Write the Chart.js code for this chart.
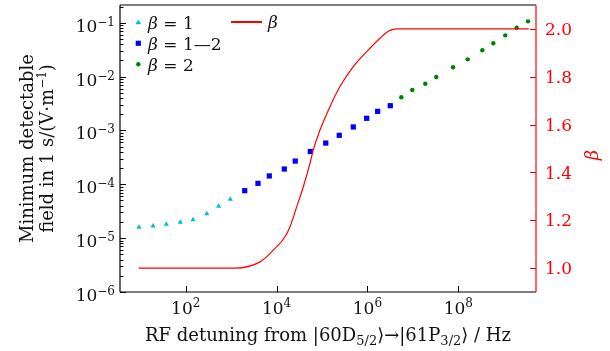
<!DOCTYPE html>
<html>
<head>
<meta charset="utf-8">
<script src="https://cdn.jsdelivr.net/npm/chart.js@4.4.0/dist/chart.umd.min.js"></script>
<style>
  html, body { margin: 0; padding: 0; background: #fff; }
</style>
</head>
<body>
<canvas id="c" width="610" height="351"></canvas>
<script>
// beta = 1 (cyan triangles)
const beta1X = [9.4, 19.1, 37.4, 76, 145, 290, 532, 960];
const beta1Y = [1.59e-5, 1.68e-5, 1.81e-5, 1.97e-5, 2.20e-5, 2.84e-5, 3.90e-5, 5.26e-5];
// beta = 1-2 (blue squares)
const beta12X = [1990, 3900, 6920, 14800, 25800, 55300, 1.21e5, 2.40e5, 4.89e5, 9.64e5, 1.68e6, 3.19e6];
const beta12Y = [7.6e-5, 1.04e-4, 1.43e-4, 1.92e-4, 2.70e-4, 4.06e-4, 5.83e-4, 8.11e-4, 1.16e-3, 1.68e-3, 2.26e-3, 2.88e-3];
// beta = 2 (green dots)
const beta2X = [5.57e6, 9.72e6, 1.88e7, 3.28e7, 7.66e7, 1.61e8, 3.38e8, 5.90e8, 1.08e9, 1.93e9, 3.43e9];
const beta2Y = [4.12e-3, 5.62e-3, 7.36e-3, 9.82e-3, 1.49e-2, 2.09e-2, 3.08e-2, 4.15e-2, 5.83e-2, 8.07e-2, 1.06e-1];
// beta curve (right axis)
const betaX = [9.2, 1216, 4325, 8470, 15350, 19770, 27730, 38820, 54450, 64420, 90360, 1.50e5, 2.49e5, 4.89e5, 9.64e5, 1.89e6, 2.88e6, 3.56e6, 4.42e6, 3.55e9];
const betaY = [1.0, 1.0, 1.026, 1.075, 1.131, 1.173, 1.256, 1.340, 1.438, 1.494, 1.577, 1.675, 1.759, 1.842, 1.905, 1.961, 1.990, 1.997, 2.0, 2.0];

// ticks
const leftDecades = [-6, -5, -4, -3, -2, -1];
const bottomDecades = [2, 4, 6, 8];
const rightTicks = [1.0, 1.2, 1.4, 1.6, 1.8, 2.0];

const SERIF = '"DejaVu Serif", "Liberation Serif", serif';
const INK = '#111';

function pts(xs, ys) {
  return xs.map((x, i) => ({x: x, y: ys[i]}));
}

function font(size, italic) {
  return (italic ? 'italic ' : '') + size + 'px ' + SERIF;
}

// parts: [text, size, dy, italic]
function rich(ctx, parts, x, y, align) {
  let w = 0;
  parts.forEach(p => { ctx.font = font(p[1], p[3]); w += ctx.measureText(p[0]).width; });
  let cx = align === 'center' ? x - w / 2 : (align === 'right' ? x - w : x);
  ctx.textAlign = 'left';
  ctx.textBaseline = 'alphabetic';
  parts.forEach(p => {
    ctx.font = font(p[1], p[3]);
    ctx.fillText(p[0], cx, y + (p[2] || 0));
    cx += ctx.measureText(p[0]).width;
  });
}

function expStr(n) {
  return n < 0 ? '\u2212' + Math.abs(n) : String(n);
}

const decor = {
  id: 'decor',
  afterDraw(chart) {
    const ctx = chart.ctx;
    const a = chart.chartArea;
    const sx = chart.scales.x, sy = chart.scales.y, sr = chart.scales.y2;
    ctx.save();

    // frame
    ctx.lineWidth = 1.2;
    ctx.strokeStyle = '#000';
    ctx.beginPath();
    ctx.moveTo(a.left, a.top); ctx.lineTo(a.right, a.top);
    ctx.moveTo(a.left, a.top); ctx.lineTo(a.left, a.bottom);
    ctx.moveTo(a.left, a.bottom); ctx.lineTo(a.right, a.bottom);
    ctx.stroke();
    ctx.strokeStyle = '#ff0000';
    ctx.beginPath();
    ctx.moveTo(a.right, a.top); ctx.lineTo(a.right, a.bottom);
    ctx.stroke();

    // left ticks
    ctx.strokeStyle = '#000';
    ctx.lineWidth = 1;
    ctx.beginPath();
    leftDecades.forEach(d => {
      for (let m = 1; m <= 9; m++) {
        const v = m * Math.pow(10, d);
        if (v > sy.max) break;
        const py = Math.round(sy.getPixelForValue(v)) + 0.5;
        ctx.moveTo(a.left, py);
        ctx.lineTo(a.left + (m === 1 ? 6 : 3.5), py);
      }
    });
    // bottom ticks
    bottomDecades.forEach(d => {
      const px = Math.round(sx.getPixelForValue(Math.pow(10, d))) + 0.5;
      ctx.moveTo(px, a.bottom);
      ctx.lineTo(px, a.bottom - 6);
    });
    ctx.stroke();
    // right ticks
    ctx.strokeStyle = '#ff0000';
    ctx.beginPath();
    rightTicks.forEach(t => {
      const py = Math.round(sr.getPixelForValue(t)) + 0.5;
      ctx.moveTo(a.right, py);
      ctx.lineTo(a.right - 6, py);
    });
    ctx.stroke();

    // tick labels
    ctx.fillStyle = INK;
    leftDecades.forEach(d => {
      const py = sy.getPixelForValue(Math.pow(10, d));
      rich(ctx, [['10', 17, 0], [expStr(d), 12, -6]], 115, py + 9, 'right');
    });
    bottomDecades.forEach(d => {
      const px = sx.getPixelForValue(Math.pow(10, d));
      rich(ctx, [['10', 17, 0], [expStr(d), 12, -7]], px, 314, 'center');
    });
    ctx.fillStyle = '#ff0000';
    rightTicks.forEach(t => {
      const py = sr.getPixelForValue(t);
      rich(ctx, [[t.toFixed(1), 17, 0]], 545, py + 6.2, 'left');
    });

    // axis titles
    ctx.fillStyle = INK;
    rich(ctx, [['RF detuning from |60D', 18, 0], ['5/2', 13, 3.5],
               ['\u27E9\u2192|61P', 18, 0], ['3/2', 13, 3.5], ['\u27E9 / Hz', 18, 0]],
         (a.left + a.right) / 2, 341, 'center');
    const cy = (a.top + a.bottom) / 2;
    ctx.save();
    ctx.translate(33, cy);
    ctx.rotate(-Math.PI / 2);
    rich(ctx, [['Minimum detectable', 18, 0]], 0, 0, 'center');
    ctx.restore();
    ctx.save();
    ctx.translate(52.5, cy);
    ctx.rotate(-Math.PI / 2);
    rich(ctx, [['field in 1 s/(V\u00B7m', 18, 0], ['\u22121', 12, -7], [')', 18, 0]], 0, 0, 'center');
    ctx.restore();
    ctx.fillStyle = '#ff0000';
    ctx.save();
    ctx.translate(598, 155);
    ctx.rotate(-Math.PI / 2);
    rich(ctx, [['\u03B2', 18, 0, true]], 0, 0, 'center');
    ctx.restore();

    // legend
    const rows = [
      {y: 22.7, label: '1', color: '#00bfbf', shape: 'tri'},
      {y: 43.3, label: '1\u20142', color: '#0000ff', shape: 'sq'},
      {y: 64.3, label: '2', color: '#008000', shape: 'dot'}
    ];
    rows.forEach(r => {
      const mx = 138.3;
      ctx.fillStyle = r.color;
      ctx.beginPath();
      if (r.shape === 'tri') {
        ctx.moveTo(mx, r.y - 3.2); ctx.lineTo(mx + 2.8, r.y + 1.6); ctx.lineTo(mx - 2.8, r.y + 1.6);
      } else if (r.shape === 'sq') {
        ctx.rect(mx - 2.6, r.y - 2.6, 5.2, 5.2);
      } else {
        ctx.arc(mx, r.y, 2.2, 0, Math.PI * 2);
      }
      ctx.fill();
      ctx.fillStyle = INK;
      rich(ctx, [['\u03B2', 17, 0, true], [' = ' + r.label, 17, 0]], 148, r.y + 6.2, 'left');
    });
    ctx.strokeStyle = '#ff0000';
    ctx.lineWidth = 2;
    ctx.beginPath();
    ctx.moveTo(231, 22); ctx.lineTo(262, 22);
    ctx.stroke();
    ctx.fillStyle = INK;
    rich(ctx, [['\u03B2', 17, 0, true]], 268, 28.2, 'left');

    ctx.restore();
  }
};

new Chart(document.getElementById('c'), {
  type: 'scatter',
  data: {
    datasets: [
      {
        label: '\u03B2 = 1',
        data: pts(beta1X, beta1Y),
        pointStyle: 'triangle',
        pointRadius: 3,
        backgroundColor: '#00bfbf',
        borderWidth: 0,
        yAxisID: 'y',
        order: 1
      },
      {
        label: '\u03B2 = 1\u20142',
        data: pts(beta12X, beta12Y),
        pointStyle: 'rect',
        pointRadius: 3.7,
        backgroundColor: '#0000ff',
        borderWidth: 0,
        yAxisID: 'y',
        order: 1
      },
      {
        label: '\u03B2 = 2',
        data: pts(beta2X, beta2Y),
        pointStyle: 'circle',
        pointRadius: 2.2,
        backgroundColor: '#008000',
        borderWidth: 0,
        yAxisID: 'y',
        order: 1
      },
      {
        label: '\u03B2',
        data: pts(betaX, betaY),
        showLine: true,
        pointRadius: 0,
        borderColor: '#ff0000',
        borderWidth: 1.2,
        cubicInterpolationMode: 'monotone',
        yAxisID: 'y2',
        order: 0
      }
    ]
  },
  options: {
    responsive: false,
    animation: false,
    layout: { padding: { top: 5, left: 0, right: 0, bottom: 0 } },
    plugins: {
      legend: { display: false },
      tooltip: { enabled: false }
    },
    scales: {
      x: {
        type: 'logarithmic',
        position: 'bottom',
        min: 3.58,
        max: 5.14e9,
        ticks: { display: false },
        grid: { display: false },
        border: { display: false },
        afterFit: s => { s.height = 59; }
      },
      y: {
        type: 'logarithmic',
        position: 'left',
        min: 1e-6,
        max: 0.2133,
        ticks: { display: false },
        grid: { display: false },
        border: { display: false },
        afterFit: s => { s.width = 120; }
      },
      y2: {
        type: 'linear',
        position: 'right',
        min: 0.9,
        max: 2.1,
        ticks: { display: false },
        grid: { display: false },
        border: { display: false },
        afterFit: s => { s.width = 74; }
      }
    }
  },
  plugins: [decor]
});
</script>
</body>
</html>
